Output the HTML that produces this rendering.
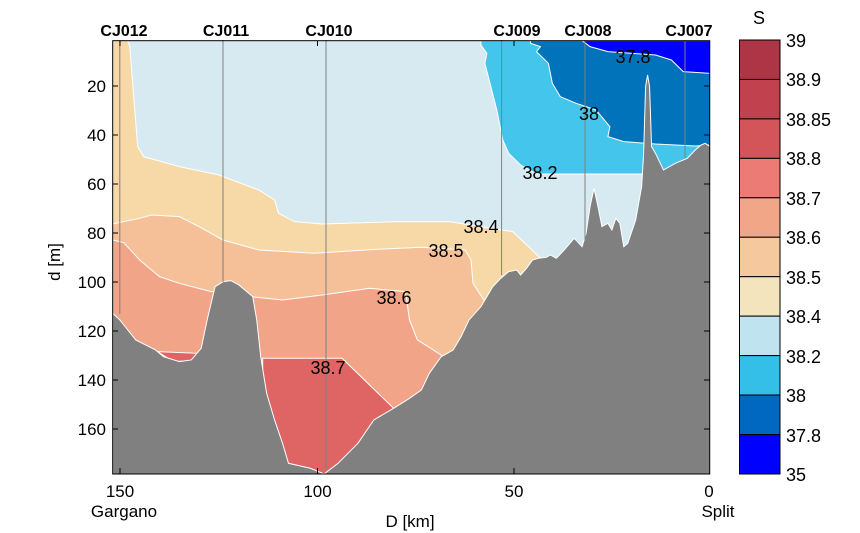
<!DOCTYPE html>
<html><head><meta charset="utf-8"><style>
body{margin:0;background:#fff;}
svg{display:block;font-family:"Liberation Sans",Arial,sans-serif;}
</style></head><body>
<svg width="860" height="533" viewBox="0 0 860 533" xmlns="http://www.w3.org/2000/svg">
<rect width="860" height="533" fill="#fff"/>
<defs><clipPath id="c"><rect x="32" y="62" width="1506" height="1300"/></clipPath></defs>
<g transform="translate(100,20) scale(0.3968,0.3333)" clip-path="url(#c)">
<rect x="32" y="62" width="1506" height="1300" fill="#d8eaf1"/>
<g stroke="#fff" stroke-width="1" vector-effect="non-scaling-stroke">
<polygon vector-effect="non-scaling-stroke" fill="#f7d9a8" points="32,62 70,62 75,80 95,380 110,410 200,440 300,465 400,510 440,540 450,580 490,605 560,612 750,605 880,605 1040,635 1080,680 1110,715 1110,1362 32,1362"/>
<polygon vector-effect="non-scaling-stroke" fill="#f5bf97" points="32,612 100,595 130,585 200,590 250,620 310,660 400,690 540,700 700,688 810,682 920,690 935,720 940,790 970,845 970,1362 32,1362"/>
<polygon vector-effect="non-scaling-stroke" fill="#f2a488" points="32,660 60,668 100,720 150,770 200,790 280,815 300,815 380,830 460,840 560,825 680,805 770,815 780,900 800,960 860,1005 860,1362 32,1362"/>
<polygon vector-effect="non-scaling-stroke" fill="#df6464" points="145,995 245,1000 230,1022 185,1025"/>
<polygon vector-effect="non-scaling-stroke" fill="#df6464" points="410,1015 610,1015 740,1165 740,1362 410,1362"/>
<polygon vector-effect="non-scaling-stroke" fill="#44c5ec" points="960,62 1538,62 1538,462 1100,462 1060,435 1030,400 1015,360 1000,270 985,200 970,130 975,100 960,75"/>
<polygon vector-effect="non-scaling-stroke" fill="#0073bb" points="1085,62 1538,62 1538,375 1500,378 1400,372 1320,365 1280,350 1285,320 1250,270 1200,250 1160,230 1140,190 1130,130 1100,95 1110,80 1085,70"/>
<polygon vector-effect="non-scaling-stroke" fill="#0000ff" points="1215,62 1538,62 1538,160 1470,155 1440,120 1400,105 1340,100 1280,95 1235,80"/>
</g>
<polygon fill="#808080" stroke="#fff" stroke-width="1" vector-effect="non-scaling-stroke" points="32,1362 32,880 50,900 90,960 140,990 160,1010 200,1025 230,1020 255,985 270,900 290,800 310,785 330,782 350,795 385,830 395,900 405,1010 420,1120 440,1200 460,1270 475,1330 530,1345 565,1362 600,1330 650,1270 690,1200 740,1165 780,1135 810,1110 830,1060 860,1010 890,990 910,950 930,900 960,860 990,800 1010,775 1030,755 1050,750 1060,765 1075,745 1090,720 1105,715 1125,712 1135,705 1150,715 1170,690 1195,655 1215,680 1225,640 1235,560 1245,505 1255,560 1265,620 1280,610 1290,630 1300,595 1310,610 1320,680 1330,670 1350,600 1365,500 1370,400 1375,200 1380,165 1385,200 1390,380 1400,400 1420,450 1450,430 1480,415 1500,390 1515,375 1525,370 1538,380 1538,1362"/>
</g>
<g stroke="#808080" stroke-width="1">
<line x1="119.8" y1="40" x2="119.8" y2="314"/>
<line x1="223" y1="40" x2="223" y2="282"/>
<line x1="326" y1="40" x2="326" y2="470"/>
<line x1="501.6" y1="40" x2="501.6" y2="275"/>
<line x1="585" y1="40" x2="585" y2="246"/>
<line x1="685" y1="40" x2="685" y2="158"/>
</g>
<g font-size="16" font-weight="bold" text-anchor="middle" fill="#000">
<text x="124" y="36">CJ012</text><text x="226" y="36">CJ011</text><text x="329" y="36">CJ010</text>
<text x="517" y="36">CJ009</text><text x="588" y="36">CJ008</text><text x="689" y="36">CJ007</text>
</g>
<g font-size="18" text-anchor="middle" fill="#000">
<text x="633" y="63">37.8</text><text x="589" y="120">38</text><text x="540" y="179">38.2</text>
<text x="481" y="233">38.4</text><text x="446" y="257">38.5</text><text x="394" y="304">38.6</text><text x="328" y="374">38.7</text>
</g>
<rect x="112.7" y="40.7" width="597" height="433.3" fill="none" stroke="#000" stroke-width="1"/>
<g stroke="#000" stroke-width="1">
<line x1="120" y1="474" x2="120" y2="468"/><line x1="317.5" y1="474" x2="317.5" y2="468"/><line x1="514" y1="474" x2="514" y2="468"/>
<line x1="120" y1="40.7" x2="120" y2="46"/><line x1="317.5" y1="40.7" x2="317.5" y2="46"/><line x1="514" y1="40.7" x2="514" y2="46"/>
<line x1="112.7" y1="86" x2="118" y2="86"/><line x1="112.7" y1="135" x2="118" y2="135"/><line x1="112.7" y1="184" x2="118" y2="184"/><line x1="112.7" y1="233" x2="118" y2="233"/><line x1="112.7" y1="282" x2="118" y2="282"/><line x1="112.7" y1="331" x2="118" y2="331"/><line x1="112.7" y1="380" x2="118" y2="380"/><line x1="112.7" y1="429" x2="118" y2="429"/>
<line x1="704" y1="86" x2="709.7" y2="86"/><line x1="704" y1="135" x2="709.7" y2="135"/><line x1="704" y1="184" x2="709.7" y2="184"/><line x1="704" y1="233" x2="709.7" y2="233"/><line x1="704" y1="282" x2="709.7" y2="282"/><line x1="704" y1="331" x2="709.7" y2="331"/><line x1="704" y1="380" x2="709.7" y2="380"/><line x1="704" y1="429" x2="709.7" y2="429"/>
</g>
<g font-size="17" text-anchor="end" fill="#000">
<text x="106" y="92">20</text><text x="106" y="141">40</text><text x="106" y="190">60</text><text x="106" y="239">80</text>
<text x="106" y="288">100</text><text x="106" y="337">120</text><text x="106" y="386">140</text><text x="106" y="435">160</text>
</g>
<g font-size="17" text-anchor="middle" fill="#000">
<text x="120" y="497">150</text><text x="317.5" y="497">100</text><text x="514" y="497">50</text><text x="709" y="497">0</text>
<text x="124" y="517">Gargano</text><text x="718" y="517">Split</text><text x="410" y="527">D [km]</text>
<text transform="translate(60,262) rotate(-90)">d [m]</text>
</g>
<g stroke="#000" stroke-width="1">
<rect x="739.5" y="40" width="40.5" height="39.45" fill="#ae3546"/>
<rect x="739.5" y="79.45" width="40.5" height="39.45" fill="#c2414f"/>
<rect x="739.5" y="118.9" width="40.5" height="39.45" fill="#d35459"/>
<rect x="739.5" y="158.35" width="40.5" height="39.45" fill="#eb7b74"/>
<rect x="739.5" y="197.8" width="40.5" height="39.45" fill="#f1a688"/>
<rect x="739.5" y="237.25" width="40.5" height="39.45" fill="#f5c89d"/>
<rect x="739.5" y="276.7" width="40.5" height="39.45" fill="#f4e4bd"/>
<rect x="739.5" y="316.15" width="40.5" height="39.45" fill="#bfe4ef"/>
<rect x="739.5" y="355.6" width="40.5" height="39.45" fill="#33bfe8"/>
<rect x="739.5" y="395.05" width="40.5" height="39.45" fill="#0068c0"/>
<rect x="739.5" y="434.5" width="40.5" height="39.5" fill="#0000ff"/>
</g>
<g font-size="18" fill="#000">
<text x="753" y="24">S</text>
<text x="786" y="47">39</text><text x="786" y="86">38.9</text><text x="786" y="126">38.85</text><text x="786" y="165">38.8</text>
<text x="786" y="205">38.7</text><text x="786" y="244">38.6</text><text x="786" y="284">38.5</text><text x="786" y="323">38.4</text>
<text x="786" y="363">38.2</text><text x="786" y="402">38</text><text x="786" y="442">37.8</text><text x="786" y="481">35</text>
</g>
</svg>
</body></html>
